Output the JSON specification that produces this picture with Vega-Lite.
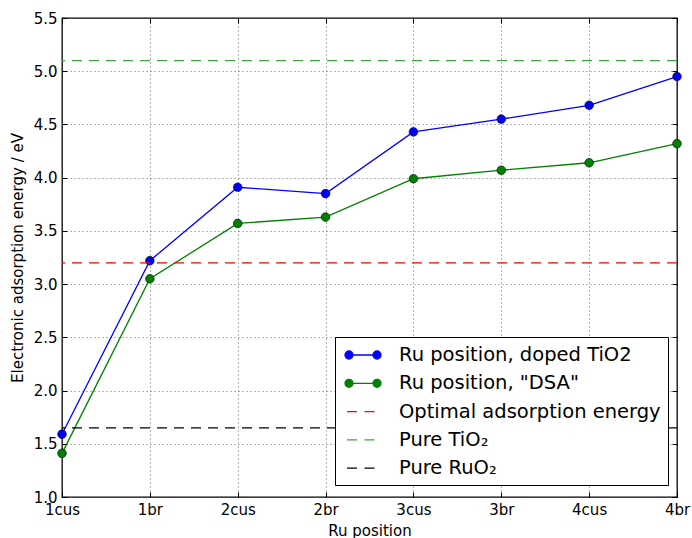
{
  "$schema": "https://vega.github.io/schema/vega-lite/v6.json",
  "width": 615,
  "height": 479,
  "autosize": {"type": "none"},
  "padding": {"left": 62, "top": 18, "right": 15, "bottom": 41},
  "background": "white",
  "config": {
    "view": {"stroke": "black", "strokeWidth": 1.3},
    "font": "DejaVu Sans",
    "axis": {
      "labelFont": "DejaVu Sans",
      "labelFontSize": 15,
      "labelColor": "black",
      "titleFont": "DejaVu Sans",
      "titleFontSize": 15,
      "titleFontWeight": "normal",
      "titleColor": "black",
      "tickColor": "black",
      "tickSize": -5,
      "labelPadding": 10,
      "domain": false,
      "gridColor": "#444",
      "gridDash": [1, 3],
      "gridWidth": 0.8
    }
  },
  "datasets": {
    "main": [
      {"pos": "1cus", "value": 1.59, "series": "Ru position, doped TiO2"},
      {"pos": "1br", "value": 3.22, "series": "Ru position, doped TiO2"},
      {"pos": "2cus", "value": 3.91, "series": "Ru position, doped TiO2"},
      {"pos": "2br", "value": 3.85, "series": "Ru position, doped TiO2"},
      {"pos": "3cus", "value": 4.43, "series": "Ru position, doped TiO2"},
      {"pos": "3br", "value": 4.55, "series": "Ru position, doped TiO2"},
      {"pos": "4cus", "value": 4.68, "series": "Ru position, doped TiO2"},
      {"pos": "4br", "value": 4.95, "series": "Ru position, doped TiO2"},
      {"pos": "1cus", "value": 1.41, "series": "Ru position, \"DSA\""},
      {"pos": "1br", "value": 3.05, "series": "Ru position, \"DSA\""},
      {"pos": "2cus", "value": 3.57, "series": "Ru position, \"DSA\""},
      {"pos": "2br", "value": 3.63, "series": "Ru position, \"DSA\""},
      {"pos": "3cus", "value": 3.99, "series": "Ru position, \"DSA\""},
      {"pos": "3br", "value": 4.07, "series": "Ru position, \"DSA\""},
      {"pos": "4cus", "value": 4.14, "series": "Ru position, \"DSA\""},
      {"pos": "4br", "value": 4.32, "series": "Ru position, \"DSA\""}
    ],
    "hlines": [
      {"value": 3.2, "series": "Optimal adsorption energy"},
      {"value": 5.1, "series": "Pure TiO₂"},
      {"value": 1.65, "series": "Pure RuO₂"}
    ]
  },
  "resolve": {"axis": {"x": "independent", "y": "independent"}},
  "layer": [
    {
      "data": {"name": "main"},
      "mark": {"type": "line", "strokeWidth": 1.3},
      "encoding": {
        "x": {
          "field": "pos", "type": "ordinal",
          "scale": {"type": "point", "padding": 0, "domain": ["1cus", "1br", "2cus", "2br", "3cus", "3br", "4cus", "4br"]},
          "axis": {"title": "Ru position", "labelAngle": 0, "grid": true, "titlePadding": 6}
        },
        "y": {
          "field": "value", "type": "quantitative",
          "scale": {"domain": [1, 5.5], "nice": false, "zero": false},
          "axis": {"title": "Electronic adsorption energy / eV", "values": [1, 1.5, 2, 2.5, 3, 3.5, 4, 4.5, 5, 5.5], "format": ".1f", "grid": true, "labelFlush": false, "titlePadding": 8}
        },
        "color": {
          "field": "series", "type": "nominal",
          "scale": {
            "domain": ["Ru position, doped TiO2", "Ru position, \"DSA\"", "Optimal adsorption energy", "Pure TiO₂", "Pure RuO₂"],
            "range": ["#0000ff", "#008000", "#ff0000", "#44a044", "#000000"]
          },
          "legend": {
            "title": null,
            "orient": "none",
            "legendX": 273,
            "legendY": 319,
            "labelFont": "DejaVu Sans",
            "labelFontSize": 19.5,
            "labelColor": "black",
            "strokeColor": "black",
            "fillColor": "white",
            "padding": 7,
            "rowPadding": 7.3,
            "symbolSize": 400,
            "symbolOffset": 10,
            "labelOffset": 25,
            "symbolStrokeWidth": 1.3,
            "labelLimit": 400,
            "encode": {
              "symbols": {
                "update": {
                  "shape": [
                    {"test": "datum.index < 2", "value": "M-1.4,0H1.4M-1.8,0A0.4,0.4,0,1,0,-1,0A0.4,0.4,0,1,0,-1.8,0ZM1,0A0.4,0.4,0,1,0,1.8,0A0.4,0.4,0,1,0,1,0Z"},
                    {"value": "M-1.6,0H-0.6M0.15,0H1.15"}
                  ],
                  "size": {"value": 400},
                  "fill": {"scale": "color", "field": "value"},
                  "stroke": {"scale": "color", "field": "value"},
                  "strokeWidth": {"value": 1.3},
                  "opacity": {"value": 1},
                  "fillOpacity": {"value": 1}
                }
              }
            }
          }
        }
      }
    },
    {
      "data": {"name": "main"},
      "mark": {"type": "point", "filled": true, "size": 75, "stroke": "black", "strokeWidth": 0.6, "opacity": 1},
      "encoding": {
        "x": {"field": "pos", "type": "ordinal", "axis": null},
        "y": {"field": "value", "type": "quantitative", "axis": null},
        "color": {"field": "series", "type": "nominal"}
      }
    },
    {
      "data": {"name": "hlines"},
      "mark": {"type": "rule", "strokeDash": [10, 7], "strokeWidth": 1.3},
      "encoding": {
        "y": {"field": "value", "type": "quantitative", "axis": null},
        "color": {"field": "series", "type": "nominal"}
      }
    },
    {
      "data": {"name": "main"},
      "mark": {"type": "point", "opacity": 0},
      "encoding": {
        "x": {"field": "pos", "type": "ordinal", "axis": {"orient": "top", "labels": false, "grid": false, "title": null}},
        "y": {"field": "value", "type": "quantitative", "axis": {"orient": "right", "labels": false, "grid": false, "title": null, "values": [1, 1.5, 2, 2.5, 3, 3.5, 4, 4.5, 5, 5.5]}}
      }
    }
  ]
}
